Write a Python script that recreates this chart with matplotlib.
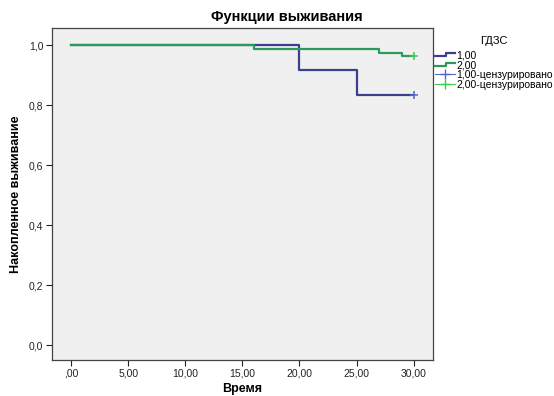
import matplotlib
matplotlib.use("Agg")
import matplotlib.pyplot as plt
from matplotlib import font_manager
from matplotlib.lines import Line2D
from matplotlib.legend_handler import HandlerLine2D

# keep the narrow variant of Liberation Sans from being picked
font_manager.fontManager.ttflist = [f for f in font_manager.fontManager.ttflist
                                    if 'Narrow' not in f.fname]
font_manager.fontManager._findfont_cached.cache_clear()
plt.rcParams['font.family'] = ['Liberation Sans', 'DejaVu Sans']

# Kaplan-Meier step data, per group
time_1 = [0, 20, 25, 30]
surv_1 = [1.0, 0.9167, 0.8333, 0.8333]
time_2 = [0, 16, 27, 29, 30]
surv_2 = [1.0, 0.9875, 0.975, 0.9625, 0.9625]

# censored observations
cens_t1 = [30]
cens_s1 = [0.8333]
cens_t2 = [30]
cens_s2 = [0.9625]

x_ticks = [0, 5, 10, 15, 20, 25, 30]
x_labels = [',00', '5,00', '10,00', '15,00', '20,00', '25,00', '30,00']
y_ticks = [0.0, 0.2, 0.4, 0.6, 0.8, 1.0]
y_labels = ['0,0', '0,2', '0,4', '0,6', '0,8', '1,0']
legend_labels = ['1,00', '2,00', '1,00-цензурировано', '2,00-цензурировано']

blue = '#3B3F8C'
green = '#2B9A5A'
blue_c = '#5068C8'
green_c = '#3CCB4E'


class StepHandler(HandlerLine2D):
    # little step icon like SPSS uses in the legend
    def create_artists(self, legend, orig_handle, xdescent, ydescent,
                       width, height, fontsize, trans):
        x0 = -xdescent
        y0 = -ydescent
        xs = [x0, x0 + width * 0.55, x0 + width * 0.55, x0 + width]
        ys = [y0 + height * 0.25, y0 + height * 0.25, y0 + height * 0.75, y0 + height * 0.75]
        ln = Line2D(xs, ys, color=orig_handle.get_color(),
                    linewidth=orig_handle.get_linewidth())
        ln.set_transform(trans)
        return [ln]


fig = plt.figure(figsize=(5.54, 3.96), dpi=100)
ax = fig.add_axes([0.0933, 0.0909, 0.6883, 0.8384])
ax.set_facecolor('#F0F0F0')

l1, = ax.step(time_1, surv_1, where='post', color=blue, linewidth=1.6)
l2, = ax.step(time_2, surv_2, where='post', color=green, linewidth=1.6)
ax.plot(cens_t1, cens_s1, linestyle='none', marker='+', markersize=6,
        markeredgewidth=1.1, color=blue_c)
ax.plot(cens_t2, cens_s2, linestyle='none', marker='+', markersize=6,
        markeredgewidth=1.1, color=green_c)

ax.set_xlim(-1.7, 31.7)
ax.set_ylim(-0.05, 1.057)
ax.set_xticks(x_ticks)
ax.set_xticklabels(x_labels)
ax.set_yticks(y_ticks)
ax.set_yticklabels(y_labels)
ax.tick_params(direction='out', length=4, width=0.8, labelsize=7.5, colors='#222222', pad=2)

for sp in ax.spines.values():
    sp.set_color('#444444')
    sp.set_linewidth(0.9)

ax.set_xlabel('Время', fontsize=9, fontweight='bold', labelpad=3)
ax.set_ylabel('Накопленное выживание', fontsize=9, fontweight='bold', labelpad=5)
fig.text(0.517, 0.956, 'Функции выживания', ha='center', va='center',
         fontsize=10.5, fontweight='bold')

# legend proxies for censor marks: thin line with a cross
h3 = Line2D([], [], color=blue_c, linewidth=0.8, marker='+', markersize=7, markeredgewidth=1.0)
h4 = Line2D([], [], color=green_c, linewidth=0.8, marker='+', markersize=7, markeredgewidth=1.0)

leg = fig.legend([l1, l2, h3, h4], legend_labels, title='ГДЗС',
                 loc='upper left', bbox_to_anchor=(0.777, 0.92),
                 frameon=False, fontsize=7.5, title_fontsize=8,
                 handlelength=2.0, handletextpad=0.1, labelspacing=0.0,
                 borderaxespad=0, handler_map={l1: StepHandler(), l2: StepHandler()})
leg._legend_box.sep = 3

fig.savefig('out.png', dpi=100, facecolor='white')
